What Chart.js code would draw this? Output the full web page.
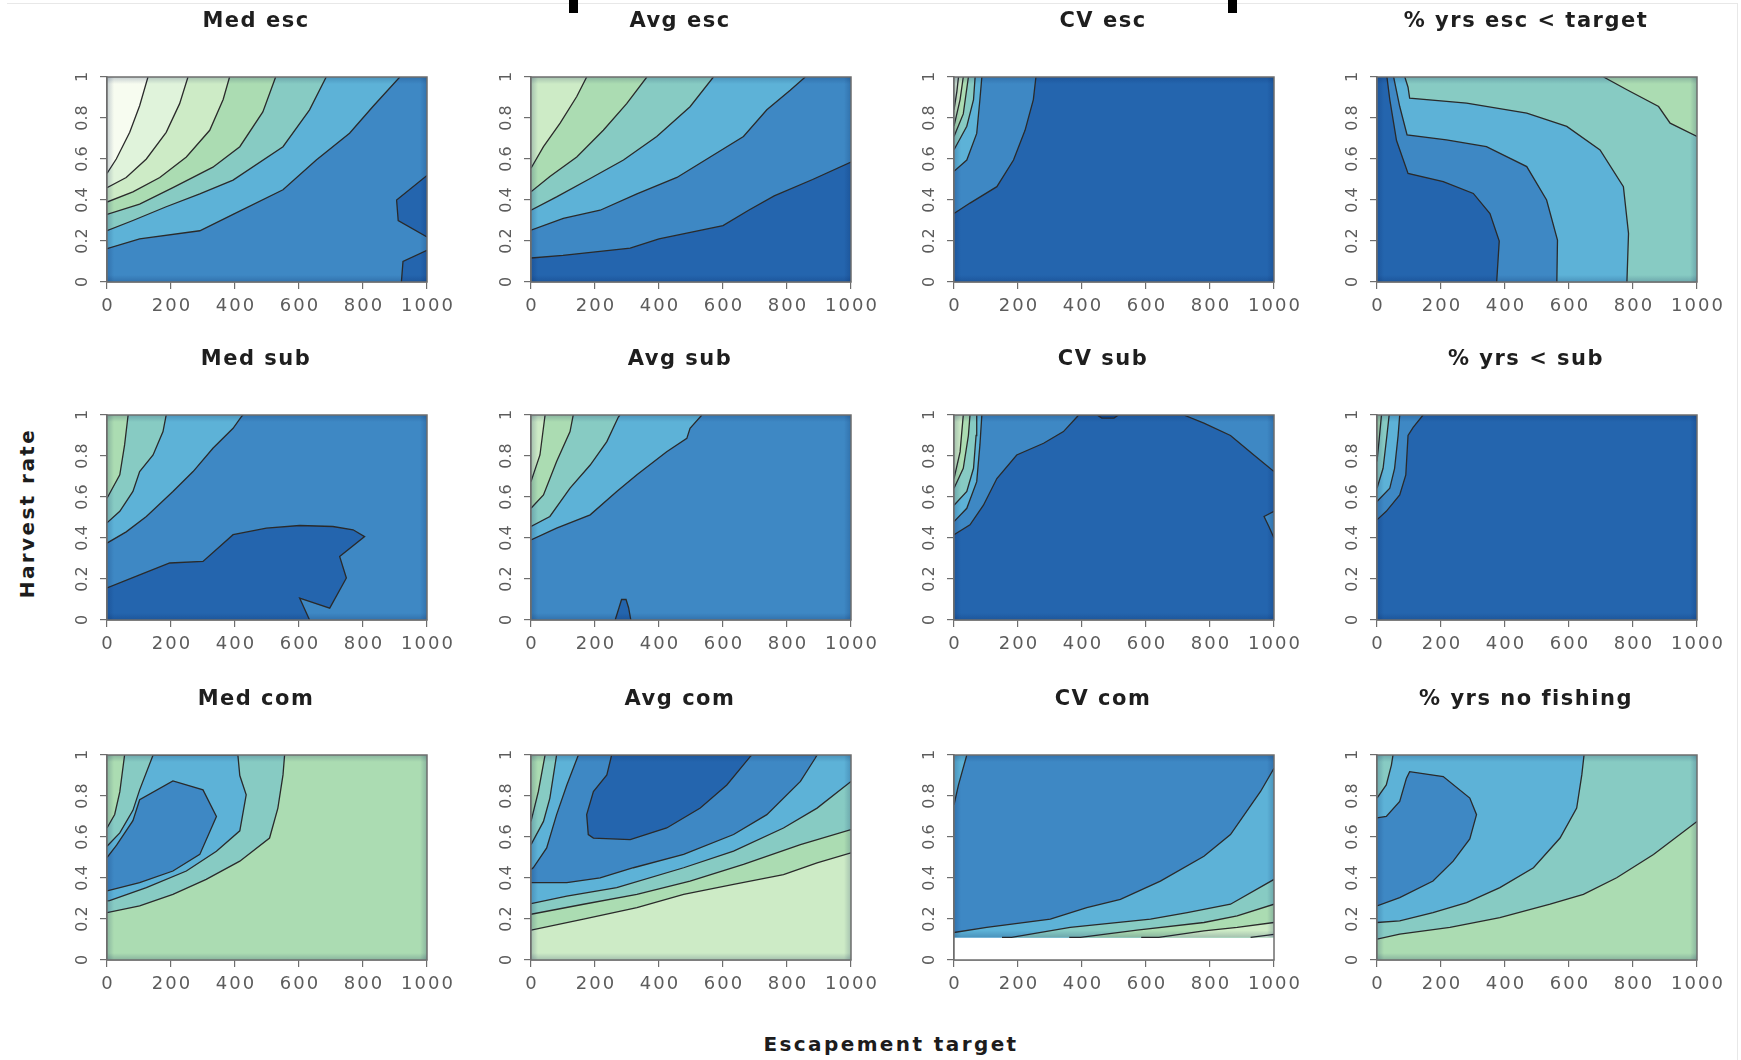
<!DOCTYPE html>
<html>
<head>
<meta charset="utf-8">
<script src="https://cdn.jsdelivr.net/npm/chart.js@4.4.1/dist/chart.umd.min.js"></script>
<style>
  body { margin: 0; background: #fff; }
  #page { position: relative; width: 1741px; height: 1060px; overflow: hidden; font-family: "DejaVu Sans", sans-serif; }
  #page canvas { position: absolute; }
  .edge { position: absolute; left: 7px; top: 3px; width: 1730px; height: 1060px; border-top: 1px solid #e8e8e8; border-right: 1px solid #e8e8e8; }
  .bar { position: absolute; top: 0; width: 9px; height: 13px; background: #000; }
  .axis-title { position: absolute; font-weight: bold; font-size: 20px; letter-spacing: 2.4px; color: #1c1c1c; white-space: nowrap; transform: translate(-50%, -50%); }
</style>
</head>
<body>
<div id="page">
  <div class="edge"></div>
  <div class="bar" style="left:569px"></div>
  <div class="bar" style="left:1228px"></div>
  <div class="axis-title" style="left:27px;top:513px;transform:translate(-50%,-50%) rotate(-90deg)">Harvest rate</div>
  <div class="axis-title" style="left:891px;top:1044px">Escapement target</div>
</div>
<script>
// tick values
const escTicks = [0, 200, 400, 600, 800, 1000];
const rateTicks = [0, 0.2, 0.4, 0.6, 0.8, 1];

// contour level colours, light -> dark (9 = no data)
const levelColors = ['#f7fcf0', '#e0f3db', '#cdebc6', '#abdcb2', '#87cbc3', '#5db2d7', '#3e88c4', '#2465ae', '#0b4c9a', '#ffffff'];

const panelTitles = ['Med esc', 'Avg esc', 'CV esc', '% yrs esc < target',
  'Med sub', 'Avg sub', 'CV sub', '% yrs < sub',
  'Med com', 'Avg com', 'CV com', '% yrs no fishing'];
const baseLevel = [6, 7, 7, 4, 6, 6, 6, 7, 3, 2, 6, 3];
// harvest rate below which a panel has no data (CV com only)
const noDataBelow = [0, 0, 0, 0, 0, 0, 0, 0, 0, 0, 0.11, 0];

// regions: [level, contour points [escapement, harvest rate], closing corners]
const medEsc = [
  [5, [[0,0.163],[102,0.21],[290,0.25],[394,0.33],[550,0.45],[654,0.595],[758,0.726],[831,0.856],[915,1]], [[0,1]]],
  [4, [[0,0.25],[81,0.30],[185,0.367],[290,0.43],[394,0.497],[550,0.66],[633,0.84],[685,1]], [[0,1]]],
  [3, [[0,0.33],[102,0.38],[206,0.46],[331,0.56],[415,0.66],[487,0.83],[527,1]], [[0,1]]],
  [2, [[0,0.39],[81,0.44],[165,0.51],[248,0.61],[321,0.74],[363,0.89],[383,1]], [[0,1]]],
  [1, [[0,0.46],[60,0.51],[123,0.60],[185,0.73],[227,0.87],[253,1]], [[0,1]]],
  [0, [[0,0.53],[29,0.60],[71,0.73],[102,0.86],[128,1]], [[0,1]]],
  [7, [[1000,0.52],[905,0.40],[910,0.30],[1000,0.22]], []],
  [7, [[920,0],[925,0.10],[1000,0.155]], [[1000,0]]]
];
const avgEsc = [
  [6, [[0,0.117],[100,0.13],[310,0.165],[400,0.21],[600,0.275],[680,0.35],[760,0.42],[880,0.50],[1000,0.585]], [[1000,1],[0,1]]],
  [5, [[0,0.253],[101,0.31],[216,0.35],[331,0.43],[456,0.51],[560,0.61],[664,0.71],[737,0.84],[810,0.935],[857,1]], [[0,1]]],
  [4, [[0,0.35],[80,0.415],[185,0.505],[289,0.595],[393,0.71],[497,0.855],[570,1]], [[0,1]]],
  [3, [[0,0.44],[59,0.515],[143,0.61],[226,0.74],[299,0.87],[362,1]], [[0,1]]],
  [2, [[0,0.555],[39,0.66],[91,0.775],[143,0.905],[174,1]], [[0,1]]]
];
const cvEsc = [
  [6, [[0,0.334],[50,0.385],[134,0.465],[186,0.595],[222,0.74],[248,0.89],[256,1]], [[0,1]]],
  [5, [[0,0.54],[40,0.595],[71,0.725],[81,0.89],[87,1]], [[0,1]]],
  [4, [[0,0.645],[40,0.76],[61,0.89],[66,1]], [[0,1]]],
  [3, [[0,0.71],[29,0.82],[45,1]], [[0,1]]],
  [2, [[0,0.76],[19,0.89],[29,1]], [[0,1]]],
  [1, [[0,0.84],[9,0.93],[14,1]], [[0,1]]]
];
const pctEsc = [
  [5, [[781,0],[786,0.237],[770,0.465],[697,0.644],[593,0.759],[468,0.824],[280,0.873],[102,0.897],[97,0.95],[87,1]], [[0,1],[0,0]]],
  [6, [[562,0],[564,0.204],[530,0.40],[468,0.563],[342,0.66],[217,0.693],[94,0.718],[71,0.856],[52,1]], [[0,1],[0,0]]],
  [7, [[374,0],[382,0.2],[353,0.334],[301,0.432],[207,0.49],[97,0.53],[61,0.69],[40,0.89],[31,1]], [[0,1],[0,0]]],
  [3, [[708,1],[781,0.938],[880,0.856],[916,0.775],[1000,0.71]], [[1000,1]]]
];
const medSub = [
  [5, [[0,0.375],[60,0.43],[123,0.505],[206,0.627],[269,0.724],[331,0.838],[394,0.935],[420,0.992],[425,1]], [[0,1]]],
  [4, [[0,0.474],[40,0.53],[81,0.627],[102,0.724],[144,0.805],[175,0.919],[185,1]], [[0,1]]],
  [3, [[0,0.594],[40,0.708],[55,0.854],[66,1]], [[0,1]]],
  [7, [[0,0.156],[102,0.22],[196,0.278],[300,0.286],[394,0.416],[498,0.448],[602,0.461],[706,0.456],[769,0.44],[805,0.407],[727,0.31],[748,0.205],[696,0.058],[602,0.107],[633,0]], [[0,0]]]
];
const avgSub = [
  [5, [[0,0.391],[80,0.448],[185,0.513],[268,0.627],[331,0.708],[424,0.821],[487,0.886],[497,0.935],[534,1]], [[0,1]]],
  [4, [[0,0.456],[59,0.505],[122,0.643],[185,0.756],[237,0.87],[273,0.99],[278,1]], [[0,1]]],
  [3, [[0,0.545],[39,0.61],[80,0.773],[122,0.919],[132,1]], [[0,1]]],
  [2, [[0,0.675],[28,0.805],[44,1]], [[0,1]]],
  [7, [[263,0],[275,0.06],[283,0.1],[297,0.1],[305,0.06],[312,0]], []]
];
const cvSub = [
  [7, [[0,0.416],[50,0.464],[92,0.56],[134,0.69],[196,0.805],[280,0.862],[342,0.919],[384,0.99],[389,1],[718,1],[781,0.96],[864,0.9],[937,0.805],[1000,0.724]], [[1000,0],[0,0]]],
  [6, [[1000,0.53],[969,0.505],[984,0.456],[1000,0.40]], []],
  [8, [[447,1],[462,0.985],[500,0.985],[514,1]], []],
  [5, [[0,0.48],[40,0.545],[71,0.675],[81,0.854],[87,1]], [[0,1]]],
  [4, [[0,0.56],[40,0.627],[61,0.74],[69,0.9],[71,1]], [[0,1]]],
  [3, [[0,0.643],[29,0.74],[45,0.9],[50,1]], [[0,1]]],
  [2, [[0,0.69],[19,0.82],[29,1]], [[0,1]]]
];
const pctSub = [
  [6, [[0,0.489],[29,0.53],[71,0.61],[90,0.708],[97,0.9],[113,0.94],[144,1]], [[0,1]]],
  [5, [[0,0.578],[40,0.643],[55,0.74],[66,0.9],[71,1]], [[0,1]]],
  [4, [[0,0.643],[19,0.74],[31,0.9],[38,1]], [[0,1]]],
  [3, [[0,0.773],[8,0.9],[14,1]], [[0,1]]]
];
const medCom = [
  [4, [[0,0.231],[102,0.264],[206,0.32],[310,0.393],[415,0.482],[508,0.595],[534,0.741],[550,0.903],[555,1]], [[0,1]]],
  [3, [[0,0.644],[24,0.71],[40,0.82],[55,1]], [[0,1]]],
  [5, [[0,0.555],[40,0.62],[81,0.73],[102,0.83],[144,1],[409,1],[415,0.9],[435,0.806],[415,0.63],[342,0.53],[248,0.434],[123,0.353],[8,0.29],[0,0.288]], []],
  [6, [[0,0.337],[102,0.377],[206,0.434],[290,0.515],[342,0.70],[300,0.83],[206,0.874],[102,0.782],[81,0.68],[30,0.56],[0,0.50]], []]
];
const avgCom = [
  [3, [[0,0.146],[164,0.199],[331,0.256],[477,0.32],[633,0.369],[789,0.417],[894,0.474],[1000,0.523]], [[1000,1],[0,1]]],
  [4, [[0,0.223],[164,0.272],[331,0.32],[497,0.385],[664,0.466],[842,0.563],[1000,0.636]], [[1000,1],[0,1]]],
  [5, [[0,0.275],[112,0.312],[268,0.353],[477,0.45],[633,0.531],[789,0.644],[894,0.741],[1000,0.871]], [[1000,1],[0,1]]],
  [6, [[0,0.377],[112,0.377],[216,0.401],[320,0.45],[477,0.515],[633,0.612],[737,0.709],[842,0.871],[888,0.984],[894,1],[148,1],[112,0.854],[80,0.709],[49,0.547],[7,0.45],[0,0.442]], []],
  [4, [[0,0.563],[39,0.676],[59,0.79],[80,1]], [[0,1]]],
  [3, [[0,0.676],[23,0.822],[44,1]], [[0,1]]],
  [7, [[252,1],[237,0.903],[195,0.822],[174,0.709],[179,0.612],[195,0.595],[310,0.587],[424,0.644],[529,0.741],[612,0.854],[685,0.992],[690,1]], []]
];
const cvCom = [
  [9, [[0,0],[1000,0],[1000,0.11],[0,0.11]], []],
  [5, [[0,0.134],[102,0.159],[301,0.199],[415,0.256],[520,0.296],[645,0.385],[781,0.506],[864,0.612],[958,0.822],[1000,0.935]], [[1000,0.11],[0,0.11]]],
  [4, [[150,0.11],[180,0.11],[363,0.159],[614,0.199],[729,0.231],[864,0.272],[1000,0.393]], [[1000,0.11]]],
  [3, [[360,0.11],[395,0.11],[572,0.146],[781,0.183],[885,0.215],[1000,0.272]], [[1000,0.11]]],
  [2, [[585,0.11],[640,0.11],[781,0.142],[885,0.159],[1000,0.183]], [[1000,0.11]]],
  [1, [[927,0.11],[1000,0.125]], [[1000,0.11]]],
  [5, [[0,0.757],[14,0.854],[40,1]], [[0,1]]]
];
const noFish = [
  [4, [[0,0.102],[71,0.126],[228,0.159],[384,0.207],[541,0.272],[645,0.32],[749,0.401],[864,0.515],[1000,0.676]], [[1000,1],[0,1]]],
  [5, [[0,0.183],[71,0.191],[175,0.231],[280,0.28],[384,0.353],[489,0.45],[572,0.595],[624,0.741],[640,0.903],[647,1]], [[0,1]]],
  [4, [[0,0.79],[29,0.854],[45,0.951],[50,1]], [[0,1]]],
  [6, [[0,0.264],[71,0.304],[175,0.385],[238,0.482],[290,0.591],[311,0.709],[290,0.79],[207,0.895],[102,0.919],[92,0.887],[71,0.773],[29,0.70],[0,0.693]], []]
];

const panels = [medEsc, avgEsc, cvEsc, pctEsc, medSub, avgSub, cvSub, pctSub, medCom, avgCom, cvCom, noFish];

// page layout
const colLeft = [107, 531, 954, 1377];
const rowTop = [77, 415, 755];
const padL = 70, padT = 80, padR = 35, padB = 40;
const plotW = 320, plotH = 205;
const axisGrey = '#6e6e6e';

const toXY = p => ({x: p[0], y: p[1]});

// slightly darker rim just inside the plot box
function shadeRim(ctx, a) {
  const d = 7, w = a.right - a.left, h = a.bottom - a.top;
  const dark = 'rgba(0,25,80,0.2)', clear = 'rgba(0,25,80,0)';
  const strips = [
    [a.left, 0, a.left + d, 0, a.left, a.top, d, h],
    [a.right, 0, a.right - d, 0, a.right - d, a.top, d, h],
    [0, a.top, 0, a.top + d, a.left, a.top, w, d],
    [0, a.bottom, 0, a.bottom - d, a.left, a.bottom - d, w, d]
  ];
  strips.forEach(s => {
    const g = ctx.createLinearGradient(s[0], s[1], s[2], s[3]);
    g.addColorStop(0, dark);
    g.addColorStop(1, clear);
    ctx.fillStyle = g;
    ctx.fillRect(s[4], s[5], s[6], s[7]);
  });
}

const deco = {
  id: 'deco',
  beforeDatasetsDraw(chart, args, opts) {
    const a = chart.chartArea, ctx = chart.ctx;
    ctx.save();
    ctx.fillStyle = levelColors[opts.base];
    ctx.fillRect(a.left, a.top, a.right - a.left, a.bottom - a.top);
    ctx.restore();
  },
  afterDatasetsDraw(chart, args, opts) {
    const a = chart.chartArea, ctx = chart.ctx;
    ctx.save();
    ctx.beginPath();
    const floor = opts.floor ? chart.scales.y.getPixelForValue(opts.floor) : a.bottom;
    ctx.rect(a.left, a.top, a.right - a.left, floor - a.top);
    ctx.clip();
    shadeRim(ctx, {left: a.left, right: a.right, top: a.top, bottom: floor});
    ctx.restore();
    ctx.save();
    ctx.strokeStyle = axisGrey;
    ctx.lineWidth = 1.5;
    ctx.strokeRect(a.left, a.top, a.right - a.left, a.bottom - a.top);
    ctx.restore();
  },
  afterDraw(chart, args, opts) {
    const a = chart.chartArea, ctx = chart.ctx;
    const xs = chart.scales.x, ys = chart.scales.y;
    ctx.save();
    ctx.fillStyle = '#5c5c5c';
    ctx.textAlign = 'center';
    ctx.textBaseline = 'middle';
    ctx.font = '18px "DejaVu Sans"';
    ctx.letterSpacing = '2px';
    xs.ticks.forEach(t => {
      ctx.fillText(String(t.value), xs.getPixelForValue(t.value) + 1, a.bottom + 24);
    });
    ctx.font = '16px "DejaVu Sans"';
    ctx.letterSpacing = '0px';
    ys.ticks.forEach(t => {
      ctx.save();
      ctx.translate(a.left - 24, ys.getPixelForValue(t.value));
      ctx.rotate(-Math.PI / 2);
      ctx.fillText(String(Number(t.value.toFixed(1))), 0, 0);
      ctx.restore();
    });
    ctx.fillStyle = '#1e1e1e';
    ctx.font = 'bold 21px "DejaVu Sans"';
    ctx.letterSpacing = '1.5px';
    ctx.fillText(opts.title, (a.left + a.right) / 2 - 11, a.top - 55);
    ctx.restore();
  }
};

const page = document.getElementById('page');

panels.forEach((regions, i) => {
  const col = i % 4, row = Math.floor(i / 4);
  const canvas = document.createElement('canvas');
  canvas.width = padL + plotW + padR;
  canvas.height = padT + plotH + padB;
  canvas.style.left = (colLeft[col] - padL) + 'px';
  canvas.style.top = (rowTop[row] - padT) + 'px';
  page.appendChild(canvas);

  const datasets = [];
  regions.forEach(([lv, pts, close], k) => {
    datasets.push({
      data: pts.concat(close).map(toXY),
      showLine: true,
      fill: 'shape',
      backgroundColor: levelColors[lv],
      borderColor: 'rgba(0,0,0,0)',
      borderWidth: 0,
      pointRadius: 0,
      order: 100 - k
    });
    if (lv < 9) {
      datasets.push({
        data: pts.map(toXY),
        showLine: true,
        fill: false,
        borderColor: '#2a2a2a',
        borderWidth: 1.3,
        pointRadius: 0,
        order: 0
      });
    }
  });

  new Chart(canvas, {
    type: 'scatter',
    data: {datasets},
    options: {
      responsive: false,
      animation: false,
      events: [],
      layout: {padding: {left: 0, top: padT, right: padR, bottom: 0}},
      plugins: {
        legend: {display: false},
        tooltip: {enabled: false},
        deco: {title: panelTitles[i], base: baseLevel[i], floor: noDataBelow[i]}
      },
      scales: {
        x: {
          type: 'linear', min: 0, max: 1000,
          afterBuildTicks: s => { s.ticks = escTicks.map(v => ({value: v})); },
          afterFit: s => { s.height = padB; },
          ticks: {display: false},
          grid: {drawOnChartArea: false, tickLength: 7, color: axisGrey, lineWidth: 1.2},
          border: {color: axisGrey, width: 1.5}
        },
        y: {
          type: 'linear', min: 0, max: 1,
          afterBuildTicks: s => { s.ticks = rateTicks.map(v => ({value: v})); },
          afterFit: s => { s.width = padL; },
          ticks: {display: false},
          grid: {drawOnChartArea: false, tickLength: 7, color: axisGrey, lineWidth: 1.2},
          border: {color: axisGrey, width: 1.5}
        }
      }
    },
    plugins: [deco]
  });
});
</script>
</body>
</html>
